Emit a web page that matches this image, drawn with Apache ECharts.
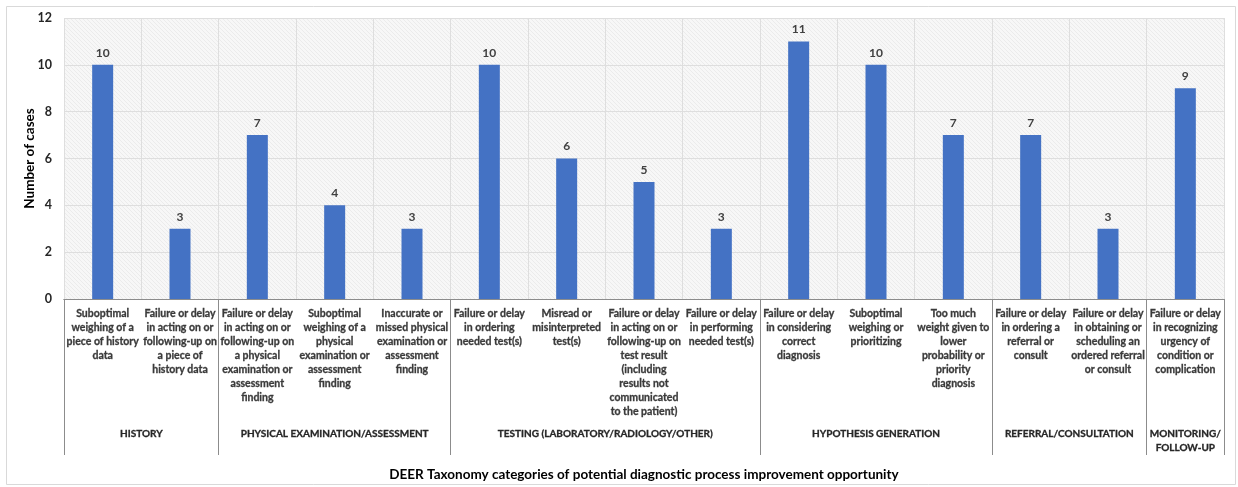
<!DOCTYPE html>
<html>
<head>
<meta charset="utf-8">
<script src="https://cdn.jsdelivr.net/npm/echarts@6/dist/echarts.min.js"></script>
<style>
  html, body { margin: 0; padding: 0; background: #fff; }
  #chart { width: 1238px; height: 487px; }
</style>
</head>
<body>
<div id="chart"></div>
<script>
// 数据
var categories = [
    "Suboptimal\nweighing of a\npiece of history\ndata",
    "Failure or delay\nin acting on or\nfollowing-up on\na piece of\nhistory data",
    "Failure or delay\nin acting on or\nfollowing-up on\na physical\nexamination or\nassessment\nfinding",
    "Suboptimal\nweighing of a\nphysical\nexamination or\nassessment\nfinding",
    "Inaccurate or\nmissed physical\nexamination or\nassessment\nfinding",
    "Failure or delay\nin ordering\nneeded test(s)",
    "Misread or\nmisinterpreted\ntest(s)",
    "Failure or delay\nin acting on or\nfollowing-up on\ntest result\n(including\nresults not\ncommunicated\nto the patient)",
    "Failure or delay\nin performing\nneeded test(s)",
    "Failure or delay\nin considering\ncorrect\ndiagnosis",
    "Suboptimal\nweighing or\nprioritizing",
    "Too much\nweight given to\nlower\nprobability or\npriority\ndiagnosis",
    "Failure or delay\nin ordering a\nreferral or\nconsult",
    "Failure or delay\nin obtaining or\nscheduling an\nordered referral\nor consult",
    "Failure or delay\nin recognizing\nurgency of\ncondition or\ncomplication"
];
var cases = [10, 3, 7, 4, 3, 10, 6, 5, 3, 11, 10, 7, 7, 3, 9];
var groups = ["HISTORY", "PHYSICAL EXAMINATION/ASSESSMENT", "TESTING (LABORATORY/RADIOLOGY/OTHER)",
    "HYPOTHESIS GENERATION", "REFERRAL/CONSULTATION", "MONITORING/\nFOLLOW-UP"];
var groupSizes = [2, 3, 4, 3, 2, 1];
var yTicks = [0, 2, 4, 6, 8, 10, 12];

(function () {
    var myChart = echarts.init(document.getElementById('chart'));
    var font = 'Lato, sans-serif';

    // 分组轴：用半格刻度（0..30），分组边界画长刻度，中心放名称
    var halfSlots = [];
    var boundaries = {};
    for (var i = 0; i <= categories.length * 2; i++) halfSlots.push('');
    var start = 0;
    boundaries[0] = true;
    groups.forEach(function (g, k) {
        halfSlots[start * 2 + groupSizes[k]] = g;
        start += groupSizes[k];
        boundaries[start * 2] = true;
    });

    // 斜纹背景
    var pat = document.createElement('canvas');
    pat.width = 4; pat.height = 4;
    var ctx = pat.getContext('2d');
    ctx.fillStyle = '#f7f7f7';
    ctx.fillRect(0, 0, 4, 4);
    ctx.strokeStyle = '#ebebeb';
    ctx.lineWidth = 1;
    ctx.beginPath();
    ctx.moveTo(0, 0); ctx.lineTo(4, 4);
    ctx.stroke();

    var option = {
        animation: false,
        graphic: [{
            type: 'rect',
            shape: { x: 6.5, y: 6.5, width: 1229, height: 478 },
            style: { fill: 'none', stroke: '#d9d9d9', lineWidth: 1 },
            z: -10
        }],
        grid: {
            show: true,
            left: 64,
            right: 14,
            top: 18,
            bottom: 187,
            backgroundColor: { image: pat, repeat: 'repeat' },
            borderWidth: 0
        },
        xAxis: [{
            type: 'category',
            data: categories,
            axisLine: { lineStyle: { color: '#8c8c8c', width: 1 } },
            axisTick: { show: false },
            axisLabel: {
                interval: 0,
                margin: 8,
                fontFamily: font,
                fontSize: 10.5,
                fontWeight: 'bold',
                lineHeight: 14,
                color: '#3a3a3a',
                textBorderColor: '#3a3a3a',
                textBorderWidth: 0.3,
                verticalAlign: 'top'
            },
            splitLine: { show: true, lineStyle: { color: '#dedede', width: 1 } }
        }, {
            type: 'category',
            position: 'bottom',
            boundaryGap: false,
            data: halfSlots,
            axisLine: { lineStyle: { color: '#8c8c8c', width: 1 } },
            axisTick: {
                show: true,
                length: 156,
                interval: function (idx) { return !!boundaries[idx]; },
                lineStyle: { color: '#8c8c8c', width: 1 }
            },
            axisLabel: {
                interval: 0,
                margin: 128,
                fontFamily: font,
                fontSize: 10,
                fontWeight: 'bold',
                lineHeight: 14,
                color: '#262626',
                textBorderColor: '#262626',
                textBorderWidth: 0.3,
                verticalAlign: 'top'
            },
            name: 'DEER Taxonomy categories of potential diagnostic process improvement opportunity',
            nameLocation: 'middle',
            nameGap: 169,
            nameMoveOverlap: false,
            nameTextStyle: { fontFamily: font, fontSize: 13.5, fontWeight: 'bold', color: '#000' }
        }],
        yAxis: {
            type: 'value',
            min: yTicks[0],
            max: yTicks[yTicks.length - 1],
            interval: 2,
            axisLine: { show: false },
            axisTick: { show: false },
            axisLabel: {
                margin: 12,
                fontFamily: font,
                fontSize: 12.5,
                fontWeight: 'bold',
                color: '#262626'
            },
            splitLine: { lineStyle: { color: '#dedede', width: 1 } },
            name: 'Number of cases',
            nameLocation: 'middle',
            nameGap: 27,
            nameMoveOverlap: false,
            nameTextStyle: { fontFamily: font, fontSize: 13.5, fontWeight: 'bold', color: '#000' }
        },
        series: [{
            type: 'bar',
            xAxisIndex: 0,
            data: cases,
            barWidth: 21,
            itemStyle: { color: '#4472C4' },
            label: {
                show: true,
                position: 'top',
                distance: 6,
                fontFamily: font,
                fontSize: 12,
                fontWeight: 'bold',
                color: '#404040'
            }
        }]
    };
    myChart.setOption(option);
    window.addEventListener('resize', function () {
        myChart.resize();
    });
})();
</script>
</body>
</html>
